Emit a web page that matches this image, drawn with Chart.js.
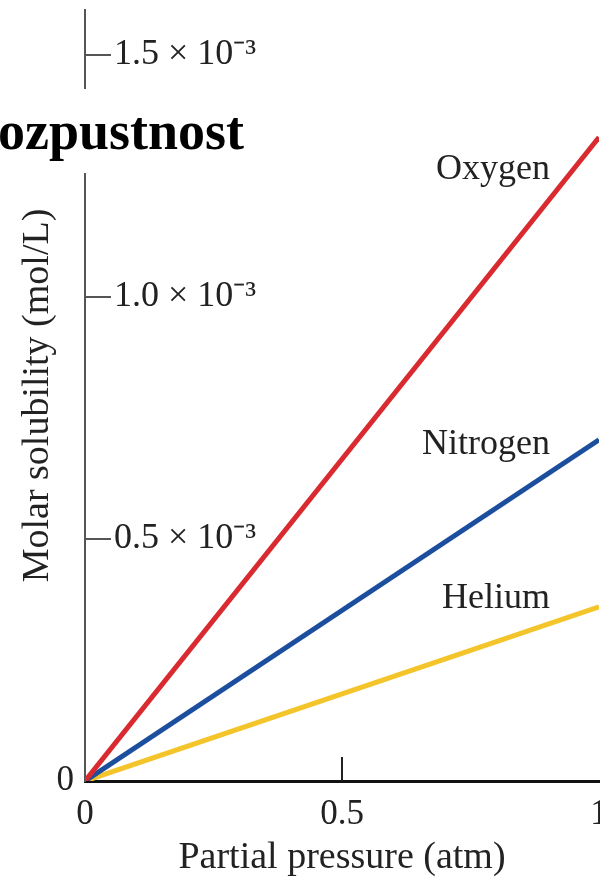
<!DOCTYPE html>
<html>
<head>
<meta charset="utf-8">
<script src="https://cdn.jsdelivr.net/npm/chart.js@4.4.1/dist/chart.umd.min.js"></script>
<style>
  html, body { margin: 0; padding: 0; background: #fff; overflow: hidden; width: 600px; height: 877px; }
  #wrap { position: relative; width: 600px; height: 877px; overflow: hidden; }
  canvas { position: absolute; left: 0; top: 0; }
  .lbl { position: absolute; font-family: 'Liberation Serif', serif; font-size: 36px; color: #222; white-space: nowrap; line-height: 36px; }
  #title { position: absolute; left: -2px; top: 89px; width: 252px; height: 84px; line-height: 84px; background: #fff;
           font-family: 'Liberation Serif', serif; font-weight: bold; font-size: 54px; color: #000; white-space: nowrap; }
</style>
</head>
<body>
<div id="wrap">
  <canvas id="c" width="640" height="877"></canvas>
  <div id="title">ozpustnost</div>
  <div class="lbl" id="lO" style="right:50px; top:149px;">Oxygen</div>
  <div class="lbl" id="lN" style="right:50px; top:424px;">Nitrogen</div>
  <div class="lbl" id="lH" style="right:50px; top:578px;">Helium</div>
</div>
<script>
// ---- data ----
const pressures = [0, 1];                 // atm
const oxygen   = [0, 1.33e-3];            // mol/L
const nitrogen = [0, 0.705e-3];
const helium   = [0, 0.36e-3];
const yTickValues = [0, 0.5e-3, 1.0e-3, 1.5e-3];
const yTickLabels = ['0', '0.5 × 10⁻³', '1.0 × 10⁻³', '1.5 × 10⁻³'];
const xTickValues = [0, 0.5, 1];
const xTickLabels = ['0', '0.5', '1'];
const yMax = 1.593e-3;

const pts = arr => pressures.map((p, i) => ({ x: p, y: arr[i] }));
const serif = "'Liberation Serif', serif";
const labelFor = (vals, labs, v) => {
  const i = vals.findIndex(t => Math.abs(t - v) < 1e-9);
  return i >= 0 ? labs[i] : '';
};
const noPad = s => { s.paddingTop = 0; s.paddingBottom = 0; };

const innerTicks = {
  id: 'innerTicks',
  afterDatasetsDraw(chart) {
    const ctx = chart.ctx;
    const y = chart.scales.y, x = chart.scales.x;
    ctx.save();
    ctx.strokeStyle = '#555';
    ctx.lineWidth = 2;
    const ax = y.right;
    y.ticks.forEach(t => {
      if (t.value === 0) return;
      const py = Math.round(y.getPixelForValue(t.value));
      ctx.beginPath(); ctx.moveTo(ax, py); ctx.lineTo(ax + 26, py); ctx.stroke();
    });
    ctx.strokeStyle = '#222';
    const by = x.top;
    x.ticks.forEach(t => {
      if (t.value === 0 || t.value >= x.max) return;
      const px = Math.round(x.getPixelForValue(t.value));
      ctx.beginPath(); ctx.moveTo(px, by); ctx.lineTo(px, by - 24); ctx.stroke();
    });
    ctx.restore();
  }
};

new Chart(document.getElementById('c'), {
  type: 'line',
  data: {
    datasets: [
      { label: 'Oxygen', data: pts(oxygen), borderColor: '#d92a30', borderWidth: 5, pointRadius: 0, yAxisID: 'y', tension: 0 },
      { label: 'Nitrogen', data: pts(nitrogen), borderColor: '#1c4e9e', borderWidth: 5, pointRadius: 0, yAxisID: 'y', tension: 0 },
      { label: 'Helium', data: pts(helium), borderColor: '#f4c52a', borderWidth: 5, pointRadius: 0, yAxisID: 'y', tension: 0 }
    ]
  },
  options: {
    responsive: false,
    animation: false,
    events: [],
    layout: { padding: { top: 10, right: 41, left: 0, bottom: 0 } },
    plugins: { legend: { display: false }, tooltip: { enabled: false } },
    scales: {
      x: {
        type: 'linear', position: 'bottom', min: 0, max: 1,
        afterBuildTicks: s => { s.ticks = xTickValues.map(v => ({ value: v })); },
        afterFit: s => { s.height = 96; },
        grid: { display: false, drawTicks: false },
        border: { display: true, color: '#111', width: 3 },
        ticks: { padding: 13, color: '#222', font: { family: serif, size: 35 },
                 callback: v => labelFor(xTickValues, xTickLabels, v), maxRotation: 0, autoSkip: false },
        title: { display: true, text: 'Partial pressure (atm)', color: '#222',
                 font: { family: serif, size: 38, lineHeight: 1 }, padding: { top: 0, bottom: 0 } }
      },
      yL: {
        type: 'linear', position: 'left', min: 0, max: yMax, weight: 1,
        afterBuildTicks: s => { s.ticks = [{ value: 0 }]; },
        afterFit: s => { s.width = 85; noPad(s); },
        grid: { display: false, drawTicks: false },
        border: { display: false },
        ticks: { padding: 11, color: '#222', font: { family: serif, size: 35 }, callback: v => '0' },
        title: { display: true, text: 'Molar solubility (mol/L)', color: '#222',
                 font: { family: serif, size: 38, lineHeight: 1 }, padding: { top: 19, bottom: 0 } }
      },
      y: {
        type: 'linear', position: 'left', min: 0, max: yMax, weight: 0,
        afterBuildTicks: s => { s.ticks = yTickValues.map(v => ({ value: v })); },
        afterFit: s => { s.width = 0; noPad(s); },
        grid: { display: false, drawTicks: false },
        border: { display: true, color: '#555', width: 2 },
        ticks: { mirror: true, padding: 29, color: '#222', font: { family: serif, size: 36 },
                 callback: v => v === 0 ? '' : labelFor(yTickValues, yTickLabels, v) }
      }
    }
  },
  plugins: [innerTicks]
});
</script>
</body>
</html>
